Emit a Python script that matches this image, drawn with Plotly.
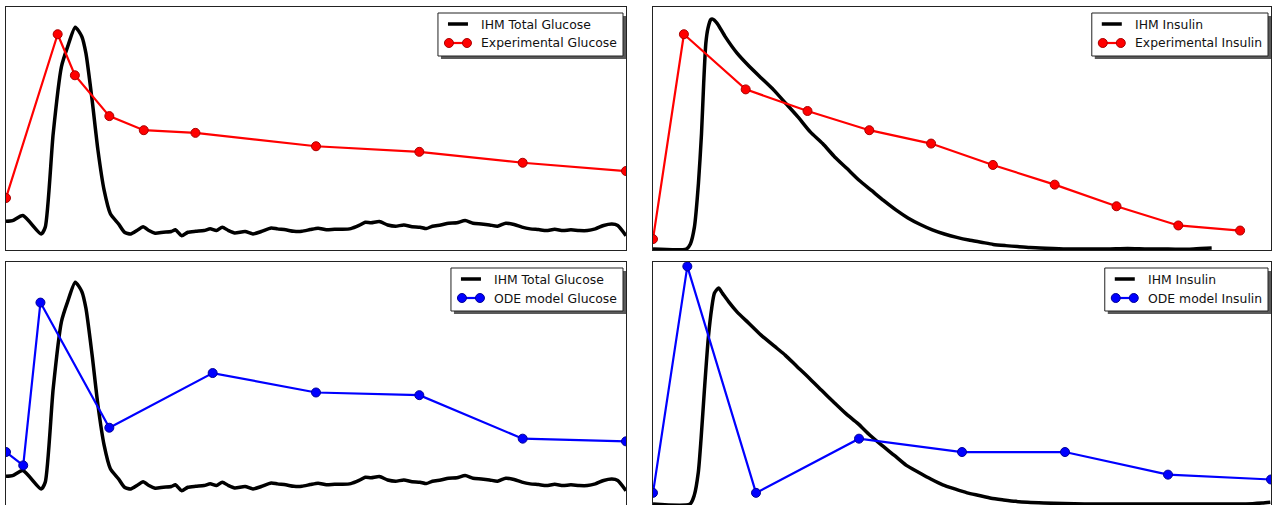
import plotly.graph_objects as go

# ---------------- data ----------------
# IHM total glucose (same curve in both glucose panels), time in min, normalised level
glu_ihm_t = [0, 1.9, 4.9, 10.2, 11.4, 13.7, 16.1, 17.9, 20.1, 22.0, 23.2, 25.0, 26.7, 28.5, 30.3,
             32.7, 34.4, 36.2, 38.0, 39.8, 41.5, 43.3, 45.7, 48.0, 49.2, 51.0, 52.8, 55.1, 57.5,
             59.3, 61.1, 62.8, 64.6, 66.4, 69.4, 71.7, 74.1, 77.0, 78.8, 81.2, 83.6, 85.9, 88.3,
             90.6, 93.0, 95.4, 97.7, 100.1, 102.5, 104.3, 106.0, 108.4, 110.8, 113.1, 115.5, 117.9,
             120.2, 122.0, 123.8, 126.2, 128.5, 130.9, 133.3, 135.6, 138.0, 140.4, 142.7, 145.1,
             147.5, 149.8, 152.2, 154.6, 156.9, 159.3, 161.7, 164.0, 166.4, 168.8, 171.1, 173.5,
             175.9, 177.6, 180.0]
glu_ihm_v = [11.8, 12.1, 14.2, 6.6, 9.4, 47.9, 75.5, 83.7, 91.7, 87.9, 81.0, 61.7, 41.0, 24.5, 14.9,
             10.7, 7.3, 6.6, 8.0, 9.6, 8.0, 6.9, 7.3, 7.6, 8.3, 5.9, 7.3, 7.7, 8.0,
             8.7, 8.0, 9.4, 8.0, 7.0, 7.6, 6.6, 7.6, 9.1, 8.7, 8.3, 7.7, 7.7, 8.4,
             9.0, 8.3, 8.5, 8.5, 8.8, 10.1, 11.4, 11.2, 11.7, 10.3, 9.8, 10.3, 9.6,
             9.4, 8.8, 9.8, 10.3, 11.0, 11.2, 12.1, 11.0, 10.7, 10.3, 9.8, 11.0,
             10.5, 9.4, 8.7, 8.4, 8.0, 8.5, 8.0, 8.3, 8.0, 8.0, 8.7, 10.1,
             10.7, 10.1, 5.9]

exp_glu_t = [0, 15, 20, 30, 40, 55, 90, 120, 150, 180]
exp_glu_v = [21.4, 88.8, 71.9, 55.1, 49.3, 48.2, 42.7, 40.4, 35.9, 32.5]

ode_glu_t = [0, 5, 10, 30, 60, 90, 120, 150, 180]
ode_glu_v = [21.8, 16.3, 83.3, 31.8, 54.3, 46.3, 45.2, 27.3, 26.2]

# IHM insulin, top panel (time axis 0-200)
ins_ihm_top_t = [0, 10.8, 12.1, 13.4, 14.7, 15.7, 16.4, 17.1, 17.8, 18.7, 19.3, 20.7, 23.3, 27.2,
                 31.2, 35.1, 39.1, 43.0, 46.9, 50.9, 54.9, 58.8, 62.8, 66.7, 70.7, 74.6, 78.6,
                 82.5, 86.5, 90.4, 94.3, 98.3, 102.2, 106.2, 110.1, 114.1, 118.0, 122.0, 127.2,
                 133.8, 140.4, 147.0, 153.6, 160.1, 166.7, 173.3, 177.2, 180.8]
ins_ihm_top_v = [0.4, 0.4, 2.5, 9.4, 27.3, 47.9, 68.6, 85.1, 91.3, 94.8, 95.0, 93.4, 87.9, 81.0,
                 75.5, 70.7, 65.8, 60.3, 54.8, 48.6, 43.8, 38.3, 33.5, 28.7, 24.5, 20.4, 16.5,
                 13.2, 10.5, 8.3, 6.6, 5.2, 4.1, 3.2, 2.3, 1.8, 1.4, 1.0, 0.7,
                 0.4, 0.4, 0.4, 0.6, 0.4, 0.4, 0.3, 0.6, 0.8]

exp_ins_t = [0, 10, 30, 50, 70, 90, 110, 130, 150, 170, 190]
exp_ins_v = [4.5, 88.8, 66.1, 57.2, 49.3, 43.8, 35.0, 26.9, 18.0, 10.1, 8.0]

# IHM insulin, bottom panel (time axis 0-180)
ins_ihm_bot_t = [0, 10.8, 12.0, 13.2, 14.0, 15.0, 16.1, 17.1, 17.9, 19.1, 20.2, 22.0, 24.4, 27.9,
                 31.4, 36.1, 38.5, 42.0, 45.6, 49.1, 52.6, 56.2, 59.7, 63.2, 66.7, 70.3, 73.8,
                 77.3, 80.9, 84.4, 87.9, 91.5, 95.0, 98.5, 102.1, 105.6, 109.1, 113.8, 119.7,
                 125.6, 137.4, 149.2, 160.9, 172.7, 177.4, 179.8]
ins_ihm_bot_v = [0.4, 0.4, 3.9, 13.5, 27.3, 47.9, 68.6, 81.0, 87.2, 89.3, 87.2, 83.7, 79.6, 74.8,
                 70.0, 64.5, 61.7, 56.9, 52.1, 47.2, 42.4, 37.6, 33.5, 28.7, 24.5, 20.4, 16.3,
                 13.5, 10.7, 8.3, 6.6, 5.0, 3.9, 2.8, 2.1, 1.5, 1.1, 0.8, 0.6,
                 0.4, 0.4, 0.4, 0.4, 0.4, 0.8, 1.1]

ode_ins_t = [0, 10, 30, 60, 90, 120, 150, 180]
ode_ins_v = [5.0, 98.2, 5.0, 27.3, 21.8, 21.8, 12.5, 10.5]

legend_labels = {
    "tl": ["IHM Total Glucose", "Experimental Glucose"],
    "tr": ["IHM Insulin", "Experimental Insulin"],
    "bl": ["IHM Total Glucose", "ODE model Glucose"],
    "br": ["IHM Insulin", "ODE model Insulin"],
}

# ---------------- figure ----------------
W, H = 1275, 505
FONT = "DejaVu Sans"
FSIZE = 12.4
RED, RED_EDGE = "#ff0000", "#aa0000"
BLUE, BLUE_EDGE = "#0000ff", "#000099"

fig = go.Figure()

def px_x(p):
    return p / W

def px_y(p):
    return 1 - p / H

# panel frames in pixels: left, right, top, bottom
frames = {"tl": (6, 626, 7, 250), "tr": (653, 1271, 7, 250),
          "bl": (6, 626, 262, 505), "br": (653, 1271, 262, 505)}
axes = {"tl": ("x", "y", "xaxis", "yaxis", [0, 180]),
        "tr": ("x2", "y2", "xaxis2", "yaxis2", [0, 200]),
        "bl": ("x3", "y3", "xaxis3", "yaxis3", [0, 180]),
        "br": ("x4", "y4", "xaxis4", "yaxis4", [0, 180])}

def black_line(key, t, v, name):
    xa, ya = axes[key][0], axes[key][1]
    fig.add_trace(go.Scatter(x=t, y=v, mode="lines", name=name, showlegend=False,
                             line=dict(color="black", width=3.5, shape="spline", smoothing=0.6),
                             xaxis=xa, yaxis=ya))

def marker_line(key, t, v, name, col, edge):
    xa, ya = axes[key][0], axes[key][1]
    fig.add_trace(go.Scatter(x=t, y=v, mode="lines+markers", name=name, showlegend=False,
                             line=dict(color=col, width=2.2),
                             marker=dict(color=col, size=9, symbol="circle",
                                         line=dict(color=edge, width=1)),
                             xaxis=xa, yaxis=ya))

black_line("tl", glu_ihm_t, glu_ihm_v, legend_labels["tl"][0])
marker_line("tl", exp_glu_t, exp_glu_v, legend_labels["tl"][1], RED, RED_EDGE)
black_line("tr", ins_ihm_top_t, ins_ihm_top_v, legend_labels["tr"][0])
marker_line("tr", exp_ins_t, exp_ins_v, legend_labels["tr"][1], RED, RED_EDGE)
black_line("bl", glu_ihm_t, glu_ihm_v, legend_labels["bl"][0])
marker_line("bl", ode_glu_t, ode_glu_v, legend_labels["bl"][1], BLUE, BLUE_EDGE)
black_line("br", ins_ihm_bot_t, ins_ihm_bot_v, legend_labels["br"][0])
marker_line("br", ode_ins_t, ode_ins_v, legend_labels["br"][1], BLUE, BLUE_EDGE)

layout = dict(width=W, height=H, margin=dict(l=0, r=0, t=0, b=0),
              paper_bgcolor="white", plot_bgcolor="white", showlegend=False,
              font=dict(family=FONT, size=12, color="black"))

for key, (l, r, t, b) in frames.items():
    xa, ya, xname, yname, xr = axes[key]
    yd = [max(0.0, px_y(b)), px_y(t)]
    common = dict(showline=True, mirror=True, linecolor="#222222", linewidth=1,
                  showgrid=False, zeroline=False, showticklabels=False, ticks="")
    layout[xname] = dict(domain=[px_x(l), px_x(r)], range=xr, anchor=ya, **common)
    layout[yname] = dict(domain=yd, range=[0, 100], anchor=xa, **common)

# --- matplotlib-style legends (box with shadow, two-marker handles) ---
# approximate DejaVu Sans advance widths (units per em = 2048) for sizing the boxes
ADV = {' ': 651, 'D': 1577, 'E': 1294, 'G': 1587, 'H': 1540, 'I': 604, 'M': 1767, 'O': 1612,
       'T': 1251, 'a': 1255, 'c': 1126, 'd': 1300, 'e': 1260, 'i': 569, 'l': 569, 'm': 1995,
       'n': 1298, 'o': 1253, 'p': 1300, 'r': 842, 's': 1067, 't': 803, 'u': 1298, 'x': 1212}

def text_w(s):
    return sum(ADV.get(c, 1250) for c in s) * FSIZE / 2048

shapes, annos = [], []
for key, labels in legend_labels.items():
    l, r, t, b = frames[key]
    col, edge = (RED, RED_EDGE) if key in ("tl", "tr") else (BLUE, BLUE_EDGE)
    R = r - 3
    top = t + 6
    L = R - (41 + max(text_w(s) for s in labels) + 8)
    bot = top + 43
    # shadow
    shapes.append(dict(type="rect", xref="paper", yref="paper", layer="above",
                       x0=px_x(L + 3), x1=px_x(R + 3), y0=px_y(bot + 3), y1=px_y(top + 3),
                       fillcolor="#5a5a5a", line=dict(width=0)))
    # box
    shapes.append(dict(type="rect", xref="paper", yref="paper", layer="above",
                       x0=px_x(L), x1=px_x(R), y0=px_y(bot), y1=px_y(top),
                       fillcolor="white", line=dict(color="#222222", width=1)))
    rows = [top + 11, top + 30]
    # handle 1: black line
    shapes.append(dict(type="line", xref="paper", yref="paper", layer="above",
                       x0=px_x(L + 10), x1=px_x(L + 30), y0=px_y(rows[0]), y1=px_y(rows[0]),
                       line=dict(color="black", width=3.5)))
    # handle 2: coloured line with two markers
    shapes.append(dict(type="line", xref="paper", yref="paper", layer="above",
                       x0=px_x(L + 11), x1=px_x(L + 29), y0=px_y(rows[1]), y1=px_y(rows[1]),
                       line=dict(color=col, width=2.2)))
    for cx in (L + 11, L + 29):
        shapes.append(dict(type="circle", xref="paper", yref="paper", layer="above",
                           x0=px_x(cx - 4.5), x1=px_x(cx + 4.5),
                           y0=px_y(rows[1] + 4.5), y1=px_y(rows[1] - 4.5),
                           fillcolor=col, line=dict(color=edge, width=1)))
    for s, ry in zip(labels, rows):
        annos.append(dict(text=s, xref="paper", yref="paper", x=px_x(L + 41), y=px_y(ry),
                          xanchor="left", yanchor="middle", showarrow=False,
                          font=dict(family=FONT, size=FSIZE, color="#111111")))

layout["shapes"] = shapes
layout["annotations"] = annos

fig.update_layout(**layout)
fig.write_html("out.html")
